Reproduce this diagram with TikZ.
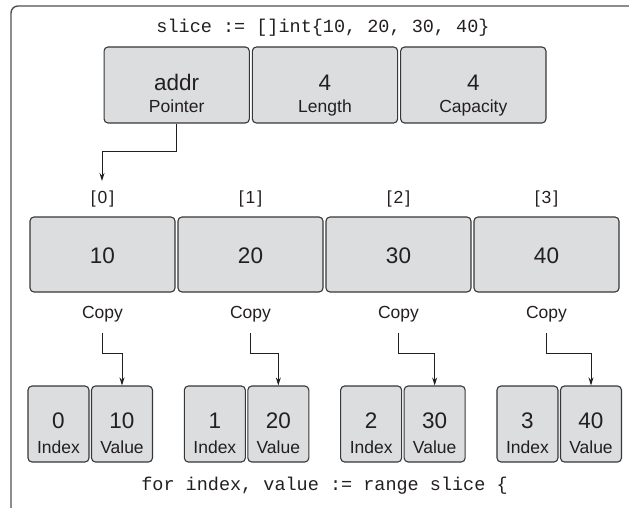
\documentclass[tikz,border=0pt]{standalone}
\usepackage{fontspec}
\setmainfont{Liberation Sans}
\setmonofont{Liberation Mono}
\usetikzlibrary{arrows.meta}
\definecolor{boxgray}{RGB}{220,221,223}
\definecolor{edgegray}{RGB}{55,55,55}
\definecolor{framegray}{RGB}{80,80,80}
\definecolor{inkgray}{RGB}{35,31,32}
\tikzset{
	cell/.style={draw=edgegray, fill=boxgray, line width=1.1pt, rounded corners=4pt, inner sep=0pt},
	bignum/.style={font=\fontsize{22.5}{26}\selectfont, text=inkgray, inner sep=0pt, anchor=base},
	tag/.style={font=\fontsize{17.5}{20}\selectfont, text=inkgray, inner sep=0pt, anchor=base},
	code/.style={font=\ttfamily\fontsize{18.5}{22}\selectfont, text=inkgray, inner sep=0pt, anchor=base},
	arr/.style={->, line width=0.9pt, inkgray},
}
\begin{document}
\begin{tikzpicture}[>={Stealth[length=8pt,width=5pt]},x=1pt,y=-1pt]
	\useasboundingbox (0,0) rectangle (629,508);
	\draw[framegray, line width=1.4pt, rounded corners=7pt] (640,6) -- (11,6) -- (11,520);
	% slice header
	\node[code] (decl) at (323,33) {slice := []int\{10, 20, 30, 40\}};
	\foreach \n/\x/\v/\t in {ptr/176.7/addr/Pointer, len/325/4/Length, cap/473.3/4/Capacity} {
		\node[cell, minimum width=145.3pt, minimum height=76pt] (\n) at (\x,85) {};
		\node[bignum] (\n-v) at (\x,91) {\v};
		\node[tag] (\n-t) at (\x,113) {\t};
	}
	% backing array
	\foreach \i/\v in {0/10,1/20,2/30,3/40} {
		\pgfmathsetmacro\x{102.5+148*\i}
		\node[tag] (lbl\i) at (\x,203) {[\kern2pt\i\kern2pt]};
		\node[cell, minimum width=145pt, minimum height=75pt] (e\i) at (\x,254.5) {};
		\node[bignum] (e\i-v) at (\x,263) {\v};
		\node[tag] (cp\i) at (\x,318) {Copy};
	}
	% index / value pairs
	\foreach \i/\v in {0/10,1/20,2/30,3/40} {
		\pgfmathsetmacro\s{28+156.33*\i}
		\node[cell, minimum width=61pt, minimum height=76pt] (ix\i) at (\s+30.5,424) {};
		\node[bignum] (ix\i-v) at (\s+30.5,428.5) {\i};
		\node[tag] (ix\i-t) at (\s+30.5,453.5) {Index};
		\node[cell, minimum width=61pt, minimum height=76pt] (vl\i) at (\s+94,424) {};
		\node[bignum] (vl\i-v) at (\s+94,428.5) {\v};
		\node[tag] (vl\i-t) at (\s+94,453.5) {Value};
		\draw[arr] (cp\i.south) ++(0,11) -- ++(0,21) -| (vl\i.north);
	}
	\coordinate (in0) at (102,181);
	\draw[arr] (ptr.south) -- ++(0,28) -| (in0);
	\node[code] (loop) at (324.5,490) {for index, value := range slice \{};
\end{tikzpicture}
\end{document}
